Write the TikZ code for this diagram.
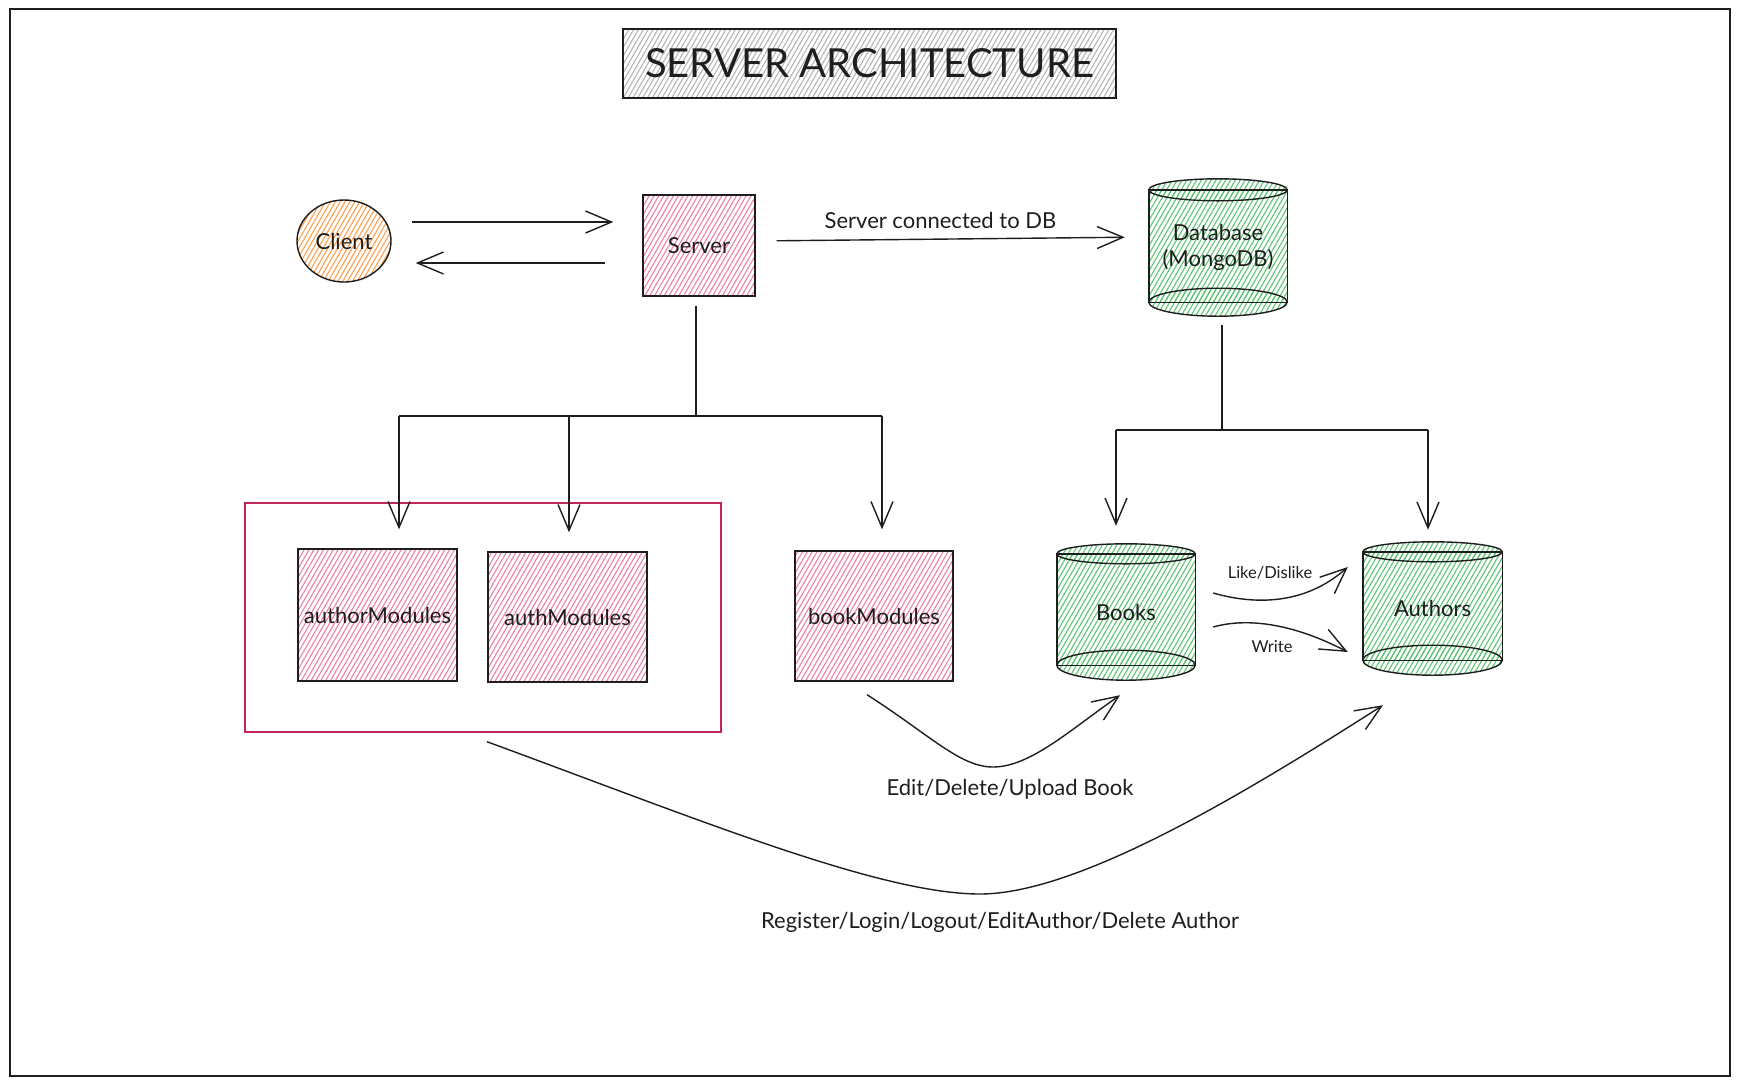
\documentclass[tikz,border=0pt]{standalone}
\usepackage{fontspec}
\setmainfont{Lato}
\usetikzlibrary{arrows.meta,patterns.meta,shapes.geometric,calc,backgrounds}

\definecolor{ink}{HTML}{1E1E1E}
\definecolor{pinkhatch}{HTML}{EE7FA3}
\definecolor{greenhatch}{HTML}{5CC473}
\definecolor{orangehatch}{HTML}{FF9F4A}
\definecolor{grayhatch}{HTML}{B5B5B5}
\definecolor{groupred}{HTML}{C2255C}

\tikzset{
  hatch/.style={pattern={Lines[angle=60,distance=4.2pt,line width=1.1pt]}, pattern color=#1},
  box/.style={draw=ink, line width=1.4pt, rectangle, inner sep=0pt},
  lbl/.style={font=\fontsize{22}{26}\selectfont, text=ink},
  small/.style={font=\fontsize{16.5}{20}\selectfont, text=ink},
  conn/.style={draw=ink, line width=1.4pt},
  arr/.style={conn, -{Straight Barb[length=26pt,width=22pt,line width=1.4pt]}},
  cylholder/.style={rectangle, inner sep=0pt, draw=none, lbl, align=center},
}

% cylinder body behind a named node: node, hatch colour, top radius, bottom radius
\newcommand\cylbody[4]{%
  \coordinate (#1-tl) at ($(#1.north west)+(0,#3)$);
  \coordinate (#1-tr) at ($(#1.north east)+(0,#3)$);
  \coordinate (#1-bl) at ($(#1.south west)+(0,-#4)$);
  \coordinate (#1-br) at ($(#1.south east)+(0,-#4)$);
  \coordinate (#1-tc) at ($(#1-tl)!0.5!(#1-tr)$);
  \coordinate (#1-bc) at ($(#1-bl)!0.5!(#1-br)$);
  \begin{scope}[on background layer]
    \path[hatch=#2] (#1-tl) rectangle (#1-br);
    \path[hatch=#2] let \p1=($(#1.east)-(#1.west)$) in
      (#1-tc) ellipse [x radius=0.5*\x1, y radius=#3pt];
    \path[hatch=#2] let \p1=($(#1.east)-(#1.west)$) in
      (#1-bc) ellipse [x radius=0.5*\x1, y radius=#4pt];
    \draw[conn] (#1-tl) rectangle (#1-br);
    \draw[conn] let \p1=($(#1.east)-(#1.west)$) in
      (#1-tc) ellipse [x radius=0.5*\x1, y radius=#3pt];
    \draw[conn] let \p1=($(#1.east)-(#1.west)$) in
      (#1-bc) ellipse [x radius=0.5*\x1, y radius=#4pt];
  \end{scope}
}

\begin{document}
\begin{tikzpicture}[x=1pt, y=-1pt]
  \useasboundingbox (0,0) rectangle (1739,1085);
  \begin{scope}[on background layer]
    \fill[white] (0,0) rectangle (1739,1085);
  \end{scope}
  \draw[ink, line width=1.3pt] (10,9) rectangle (1730,1076);

  % title
  \node[box, line width=2pt, hatch=grayhatch, minimum width=493pt, minimum height=69pt,
        font=\fontsize{40}{46}\selectfont, text=ink] (title) at (869.5,63.5) {SERVER ARCHITECTURE};

  % client and server
  \node[draw=ink, line width=1.4pt, ellipse, hatch=orangehatch, minimum width=94pt,
        minimum height=82pt, inner sep=0pt, lbl] (client) at (344,241) {Client};
  \node[box, hatch=pinkhatch, minimum width=112pt, minimum height=101pt, lbl] (server) at (699,245.5) {Server};

  % database
  \node[cylholder, minimum width=138pt, minimum height=137pt] (db) at (1218,247.5) {Database\\(MongoDB)};
  \cylbody{db}{greenhatch}{11}{14}

  % modules
  \node[draw=groupred, line width=1.4pt, rectangle, minimum width=476pt, minimum height=229pt] (group) at (483,617.5) {};
  \node[box, hatch=pinkhatch, minimum width=159pt, minimum height=132pt, lbl] (author) at (377.5,615) {authorModules};
  \node[box, hatch=pinkhatch, minimum width=159pt, minimum height=130pt, lbl] (auth) at (567.5,617) {authModules};
  \node[box, hatch=pinkhatch, minimum width=158pt, minimum height=130pt, lbl] (book) at (874,616) {bookModules};

  % collections
  \node[cylholder, minimum width=138pt, minimum height=136pt] (books) at (1126,612) {Books};
  \cylbody{books}{greenhatch}{10}{15}
  \node[cylholder, minimum width=139pt, minimum height=133pt] (authors) at (1432.5,608.5) {Authors};
  \cylbody{authors}{greenhatch}{10}{15}

  % client <-> server
  \draw[arr, shorten <=20pt, shorten >=29pt] ($(client.east)+(0,-19)$) -- ($(server.west)+(0,-23.5)$);
  \draw[arr, shorten <=37pt, shorten >=24pt] ($(server.west)+(0,17.5)$) -- ($(client.east)+(0,22)$);

  % server -> database
  \draw[arr, shorten <=21pt, shorten >=24pt] ($(server.east)+(0,-4.5)$) --
    node[lbl, pos=0.47, above=6pt] (dblabel) {Server connected to DB} ($(db.west)+(0,-10.5)$);

  % server -> modules
  \coordinate (sbus) at (696,416);
  \coordinate (sb1) at (399,416);
  \coordinate (sb2) at (569,416);
  \coordinate (sb3) at (882,416);
  \draw[conn, shorten <=9pt] (server.south -| sbus) -- (sbus);
  \draw[conn] (sb1) -- (sb3);
  \draw[arr, shorten >=19pt] (sb1) -- (sb1 |- author.north);
  \draw[arr, shorten >=19pt] (sb2) -- (sb2 |- auth.north);
  \draw[arr, shorten >=21pt] (sb3) -- (sb3 |- book.north);

  % database -> collections
  \coordinate (dbus) at (1222,430);
  \coordinate (db1) at (1116,430);
  \coordinate (db2) at (1428,430);
  \draw[conn, shorten <=9pt] (db.south -| dbus) -- (dbus);
  \draw[conn] (db1) -- (db2);
  \draw[arr, shorten >=18pt] (db1) -- (db1 |- books.north);
  \draw[arr, shorten >=12pt] (db2) -- (db2 |- authors.north);

  % books -> authors
  \draw[arr] ($(books.east)+(18,-19)$) .. controls (1255,605) and (1305,605) .. ($(authors.west)+(-15,-41.5)$);
  \node[small] (likelbl) at (1270,573) {Like/Dislike};
  \draw[arr] ($(books.east)+(18,15)$) .. controls (1245,618) and (1290,622) .. ($(authors.west)+(-15,43.5)$);
  \node[small] (writelbl) at (1272,647) {Write};

  % bookModules -> books
  \draw[arr] ($(book.south)+(-7,13)$) .. controls (930,735) and (960,767) .. (993,767)
    .. controls (1030,767) and (1070,730) .. ($(books.south)+(-6,15)$);
  \node[lbl] (editlbl) at (1010,789) {Edit/Delete/Upload Book};

  % author/auth modules -> authors
  \draw[arr] ($(group.south)+(4,9)$) .. controls (700,820) and (880,894) .. (980,894)
    .. controls (1080,894) and (1250,790) .. ($(authors.south)+(-49.5,30)$);
  \node[lbl] (reglbl) at (1000,922) {Register/Login/Logout/EditAuthor/Delete Author};
\end{tikzpicture}
\end{document}
